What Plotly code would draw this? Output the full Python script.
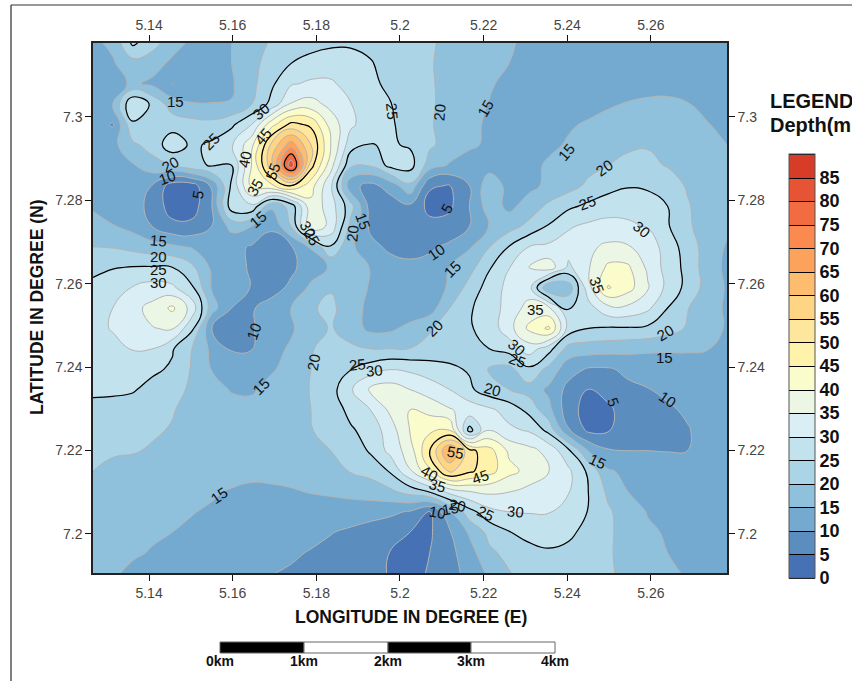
import plotly.graph_objects as go

# grid positions (degrees)
lon_min, lon_max = 5.1266, 5.2782
lat_min, lat_max = 7.1906, 7.3177
n_cols, n_rows = 33, 27
lons = [lon_min + (lon_max - lon_min) * i / (n_cols - 1) for i in range(n_cols)]
lats = [lat_max - (lat_max - lat_min) * i / (n_rows - 1) for i in range(n_rows)]

r00 = [14,16,26,22,17,14,13,15,18,20.5,22,23,24,24,24,24,23,20.5,19,18,17,15.5,14,13,13,13,13,13,13,13,13,13,13]
r01 = [13,14.5,18,17,14,12.5,12,15,18.5,22,25,27,28,28,25.3,23.5,22.5,20.5,18,16.5,15.8,15,13.5,13,13,13,13,13,13,13,13,13,13]
r02 = [12.5,13,15.8,14,9.8,12,12.5,14.5,18.5,24,29.5,30.8,30.6,28.5,26,24,22.5,20.7,18,16.5,15.3,14.3,13.5,13,13,13,13,13,13,13,13,13,13]
r03 = [12.5,15,30,24,17.5,15.3,15.2,15.2,20,26.5,35.5,37,33.5,30.2,26.5,25.2,23,20.8,18,16,14.9,14,13.5,13,13,13.5,14.5,15.3,16,16.2,15.2,14,13.5]
r04 = [12.5,9.5,24,22.5,23,22,21.5,24,30,43,51.5,49,38,31,27,25.5,23.5,20.6,17.5,15.8,14.5,14,13.5,13.5,14.5,15.5,16.5,17.5,18.5,18,16.5,15.2,14]
r05 = [13,13.5,19,22,28,24,26,29.5,38.5,56,68,55,40,27,24.8,25.5,24.5,20.8,18,15.5,14.5,13.5,13,14,15.5,17,18.5,19.5,19.7,19.5,18,16,15]
r06 = [13,13.5,14.5,18,20,23.5,25.5,25,40,58,84,52,37,21,20.5,26.5,27,17.5,14.5,13.5,13,10,13.5,15.7,17,18.5,20,20.8,21,19.7,18.5,16.5,15.3]
r07 = [13.5,13.5,13,9.8,2.5,2.5,11,26,41,44,50,42,31,11.5,8.5,12,19,5.5,4.8,10,18,13.5,13.8,16,18,21,23,24.5,24,22.5,19.5,18,16]
r08 = [14.5,13,12,8.5,2.5,2.5,10,28,29,16,22,38.5,32.5,22,8,7.5,9,3.5,4,10,17.5,13.8,17,21,24,26,28,29,28,25,20.5,17.5,16]
r09 = [16.5,15.3,13.5,10,6.5,6.5,10.1,16.5,15,10.5,20,39,33.5,18.5,9,8,9,6.5,7,10,15.2,18,21.5,25.5,29.5,31,31.5,30.5,29.8,25.5,20.7,18,16]
r10 = [20,19.7,18.5,17,16,14.5,12.5,11.5,9.5,8.5,9.5,15.5,24.5,16,11.5,9,8.5,9.3,11,14.5,19.8,25.2,30,31,32,34,36,35.5,32.5,28,22.5,18,14.5]
r11 = [23.5,24.7,25.2,25.3,25,21,14,11.5,9.5,8,9,12.5,15.5,17.5,14.8,12,11,11.5,15,18,24.5,29.8,35,38,29,34.5,41,40.8,34,28,23.5,17.5,14]
r12 = [26.5,28,30.2,32,31,25.7,14.5,12,9.8,8,11,16,19.6,18,14.5,12,11.5,13,15.5,22,27,31.5,32,15,17,33,45.5,42,35.5,28.5,23.5,18,14.5]
r13 = [26.5,30,33.5,36.5,41,33,17,10,9.5,12,15,19.5,21,17.5,13.5,11.8,11.5,12.5,20,24.3,28,31.5,37,36,24.8,28,33.5,33.8,31,25,20.3,16.5,14.5]
r14 = [28,30.5,32.5,34.8,35.5,26,10,8,9.5,12.5,14.5,17.5,20.5,17.5,13.8,14,16.5,19.5,22.5,24.5,27,33,41,46,28,25,24.5,24.5,24,22,19.5,17,14.5]
r15 = [26,28,30.3,30,25.5,20,13.8,9.5,9.8,13.8,15.5,19.7,21.5,21,20,20,20.1,21.5,22.5,23.5,25,27,32.5,27,18,17.5,17,16.5,16,15.7,15.5,15.2,13.5]
r16 = [25.8,26.5,27,26,24.3,19.5,14.8,12.5,12,14.5,16.5,20,22.5,24.8,27.5,29.8,29,27.5,26,24.5,19.5,18.5,24,18.5,12,9.5,9.5,11,11.5,12,13,13,13]
r17 = [26,26,25.5,23.3,22,19,16.5,14.7,14.4,16.5,18,20.2,23,29.3,36,37.5,35,32.5,30,26,22,20,18,14,8.5,4.8,7,9,9.8,11.5,12.5,13,13]
r18 = [23.5,23,22.5,21.5,20.3,18.5,17,16.5,16.5,17,17.5,20,22,26.5,30,36,40,38.5,35.5,33,31,28,23.5,16.5,7,3,4,7.5,8,9,11,12.5,13]
r19 = [22,21.5,21,20.5,19.7,18,17,16.8,16.5,17,19,19.8,21.5,24.3,27,32.5,40.2,44,45,23,35,31,29.5,23.5,10.5,4,4.7,7,7.5,8,9.5,12.5,13]
r20 = [20.8,20.5,20.3,19.6,18.5,17.5,16.5,16,15.3,16.5,17,17.5,20,21.5,25.7,31.5,37.5,50,66,51.5,47,39,36.5,33.5,26,14.8,10.5,10,10,9.8,10,12,13]
r21 = [20,19,18.5,18,17.5,17,16.5,16,16,16.2,16.3,16.5,17.5,20.3,21.5,25.5,34.5,44,56,51,47,41.5,38.5,35.3,31,24,15.5,14,13.5,13.2,13,13,13]
r22 = [18,17.5,17,16.5,16,15.7,15.3,14.8,14.2,14.3,14.7,15.2,15.7,16.5,17.5,19,22,25.5,32,35,36,35.2,33.5,32.5,30.3,25,19,15,13.5,13,13,13,13]
r23 = [17,16.5,16,15.8,15.3,15.1,14.7,14.3,14,13.7,13.5,13.2,12.8,12.4,11.8,11,9.5,4.8,14.5,23,28.5,30,30.3,30.3,28,24.8,20.7,17.5,14.7,13.7,13,13,13]
r24 = [16,15.7,15.4,15.2,15,14.6,14.2,13.8,13.4,13,12.5,11.8,10.2,9.2,8,6.8,5,4.3,9.5,15.7,21.5,24.8,26.5,26.8,26,23.5,21,17.5,15.8,14.5,13.5,13,13]
r25 = [15.8,15.5,15.2,14.9,14.3,13.8,13.2,12.6,12,11.5,10.9,9.6,8.8,7.9,6.5,4.9,3.6,5,8.5,13,19,21.5,23.5,24.5,23.8,22.8,20.5,18.5,16.5,15,14,13,13]
r26 = [15.7,15.2,14.7,14.2,13.6,13,12.5,11.8,11,10.2,9.3,8.5,7.7,6.8,5.9,4.8,3.6,5.4,8.5,11.3,16,19.8,21.5,22.5,22,21,20.4,19.2,17.3,15.6,14.7,13.5,13]
depth = [r00,r01,r02,r03,r04,r05,r06,r07,r08,r09,r10,r11,r12,r13,r14,r15,r16,r17,r18,r19,r20,r21,r22,r23,r24,r25,r26]

lon_ticks = [5.14,5.16,5.18,5.2,5.22,5.24,5.26]
lon_labels = ["5.14","5.16","5.18","5.2","5.22","5.24","5.26"]
lat_ticks = [7.2,7.22,7.24,7.26,7.28,7.3]
lat_labels = ["7.2","7.22","7.24","7.26","7.28","7.3"]
legend_ticks = list(range(0,90,5))
band_colors = ["#4671b4","#5b8dbf","#74aad0","#8fc0dc","#abd4e6","#c2e2ee","#d9eff5","#ecf6e4","#fbfccb",
               "#fff3ab","#fee69c","#fed585","#febd6e","#fda25c","#fa8a4f","#f36b40","#e65335","#d73c28"]
scale_labels = ["0km","1km","2km","3km","4km"]

# contour labels: text, lon, lat, angle
def at(px, py):
    return 5.14 + (px - 149) * 0.02 / 83.67, 7.3 - (py - 117) * 0.02 / 83.4
contour_labels = [
 ("15",175,102,0),("30",261,112,-40),("25",211,142,-45),("45",263,137,-50),("40",245,160,-80),("20",170,165,-30),
 ("10",167,178,-20),("5",198,195,-80),("35",255,188,-60),("55",273,172,-70),("15",258,220,-40),("30",308,230,60),
 ("25",312,238,60),("15",363,222,70),("20",353,233,-85),("25",392,112,85),("20",440,112,-85),("15",486,108,-60),
 ("15",567,152,-50),("20",605,168,-35),("25",588,203,-20),("30",642,230,40),("35",597,286,70),("5",447,209,-60),
 ("10",437,252,-35),("15",453,269,-45),("35",536,310,0),("20",435,328,-45),("30",517,348,40),("25",518,361,20),
 ("20",493,390,15),("20",666,333,-30),("15",665,358,0),("10",668,400,35),("5",613,402,70),("15",598,462,25),
 ("55",456,453,10),("45",481,477,-20),("40",430,474,30),("35",438,486,15),("20",458,506,10),("15",451,509,-10),
 ("10",438,513,10),("25",486,514,25),("30",516,512,5),("15",158,241,5),("20",158,257,0),("25",158,270,0),
 ("30",158,283,0),("10",254,332,-70),("15",261,387,-45),("20",314,362,-80),("25",358,365,-5),("30",375,371,-5),
 ("15",219,496,-35),
]

colorscale = []
for i, c in enumerate(band_colors):
    colorscale += [[i / 18, c], [(i + 1) / 18, c]]
levels = dict(start=0, end=90, size=5, coloring="fill", showlines=True)
sans = "Liberation Sans, Arial, sans-serif"
tickfont = dict(family=sans, size=14, color="#444444")

fig = go.Figure()
# bottom layer carries the colour bar with black separators
fig.add_trace(go.Contour(x=lons, y=lats, z=depth, zmin=0, zmax=90, autocontour=False, contours=levels,
    colorscale=colorscale, line=dict(color="black", width=1, smoothing=1.3), hoverinfo="skip",
    colorbar=dict(lenmode="pixels", len=424, thickness=26, thicknessmode="pixels", xanchor="left", x=(789-93)/634,
                  yanchor="bottom", y=(573-578)/530, xpad=0, ypad=0, tickvals=legend_ticks, ticks="", outlinecolor="#555555",
                  outlinewidth=1, tickfont=dict(family=sans, size=18, color="#111111", weight="bold"))))
fig.add_trace(go.Contour(x=lons, y=lats, z=depth, zmin=0, zmax=90, autocontour=False, contours=levels,
    colorscale=colorscale, showscale=False, line=dict(color="#b4b4b4", width=1, smoothing=1.3), hoverinfo="skip"))
for lvl in (25, 50, 75):
    fig.add_trace(go.Contour(x=lons, y=lats, z=depth, autocontour=False, showscale=False, hoverinfo="skip",
        contours=dict(start=lvl, end=lvl, size=5, coloring="none"),
        line=dict(color="black", width=1.2, smoothing=1.3)))
fig.add_trace(go.Scatter(x=[lon_min, lon_max], y=[lat_min, lat_max], xaxis="x2", yaxis="y2", mode="markers",
    marker=dict(opacity=0), showlegend=False, hoverinfo="skip"))

annotations = []
for text, px, py, angle in contour_labels:
    x, y = at(px, py)
    annotations.append(dict(x=x, y=y, xref="x", yref="y", text=text, textangle=angle, showarrow=False,
                            font=dict(family=sans, size=15, color="#111111"), xanchor="center", yanchor="middle"))

def pap(px, py):
    return (px - 93) / 634, (573 - py) / 530
def note(text, px, py, size, anchor="center", angle=0):
    x, y = pap(px, py)
    annotations.append(dict(x=x, y=y, xref="paper", yref="paper", text=text, showarrow=False, textangle=angle,
                            xanchor=anchor, yanchor="middle", font=dict(family=sans, size=size, color="#111111", weight="bold")))
note("LONGITUDE IN DEGREE (E)", 411, 617, 17.5)
note("LATITUDE IN DEGREE (N)", 37, 307, 17.5, angle=-90)
note("LEGEND", 768, 101, 20, anchor="left")
note("Depth(m", 768, 125, 20, anchor="left")

shapes = []
edges = [220, 304, 388, 471, 555]
for i in range(4):
    x0, y0 = pap(edges[i], 653)
    x1, y1 = pap(edges[i + 1], 642)
    shapes.append(dict(type="rect", xref="paper", yref="paper", x0=x0, x1=x1, y0=y0, y1=y1,
                       fillcolor="black" if i % 2 == 0 else "white", line=dict(color="#666666", width=1)))
for lab, e in zip(scale_labels, edges):
    note(lab, e, 661, 14)
# page frame
x0, y0 = pap(11, 5)
x1, y1 = pap(11, 681)
shapes.append(dict(type="line", xref="paper", yref="paper", x0=x0, x1=x1, y0=y0, y1=y1, line=dict(color="#808080", width=2)))
x1b, _ = pap(852, 5)
shapes.append(dict(type="line", xref="paper", yref="paper", x0=x0, x1=x1b, y0=y0, y1=y0, line=dict(color="#333333", width=1)))

axis = dict(showgrid=False, zeroline=False, ticks="outside", ticklen=6, tickcolor="#111111", tickwidth=1,
            showline=True, linecolor="#222222", linewidth=1.5, tickfont=tickfont)
fig.update_layout(
    width=852, height=681, margin=dict(l=93, r=125, t=43, b=108), paper_bgcolor="white", plot_bgcolor="white",
    showlegend=False, annotations=annotations, shapes=shapes,
    xaxis=dict(range=[lon_min, lon_max], tickvals=lon_ticks, ticktext=lon_labels, **axis),
    yaxis=dict(range=[lat_min, lat_max], tickvals=lat_ticks, ticktext=lat_labels, **axis),
    xaxis2=dict(range=[lon_min, lon_max], tickvals=lon_ticks, ticktext=lon_labels, overlaying="x", side="top", anchor="y", **axis),
    yaxis2=dict(range=[lat_min, lat_max], tickvals=lat_ticks, ticktext=lat_labels, overlaying="y", side="right", anchor="x", **axis),
)
fig.write_html("out.html", post_script="document.body.style.margin='0';", config=dict(displayModeBar=False))
